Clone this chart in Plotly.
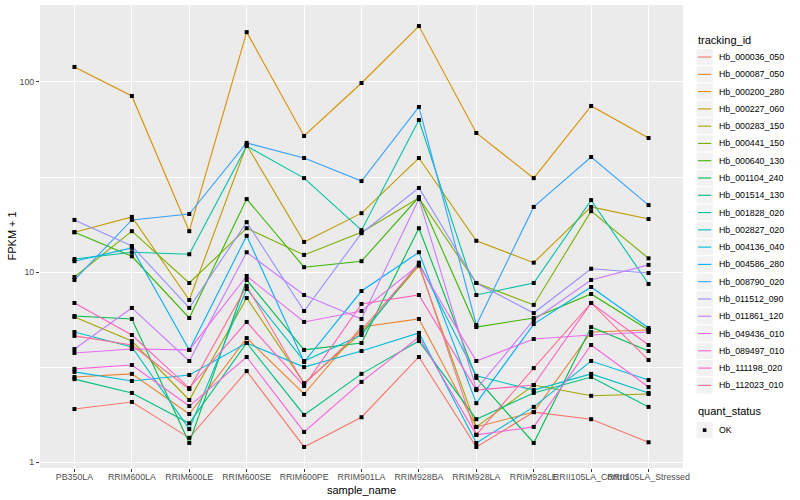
import plotly.graph_objects as go
import math

samples = ["PB350LA", "RRIM600LA", "RRIM600LE", "RRIM600SE", "RRIM600PE", "RRIM901LA",
           "RRIM928BA", "RRIM928LA", "RRIM928LE", "RRII105LA_Control", "RRII105LA_Stressed"]

tracking_ids = ["Hb_000036_050", "Hb_000087_050", "Hb_000200_280", "Hb_000227_060",
                "Hb_000283_150", "Hb_000441_150", "Hb_000640_130", "Hb_001104_240",
                "Hb_001514_130", "Hb_001828_020", "Hb_002827_020", "Hb_004136_040",
                "Hb_004586_280", "Hb_008790_020", "Hb_011512_090", "Hb_011861_120",
                "Hb_049436_010", "Hb_089497_010", "Hb_111198_020", "Hb_112023_010"]

# FPKM + 1 values, one list per tracking_id (order of samples)
hb_000036_050 = [1.90, 2.07, 1.34, 3.01, 1.20, 1.72, 3.57, 1.20, 1.83, 1.68, 1.27]
hb_000087_050 = [2.80, 2.91, 1.79, 4.49, 2.28, 5.13, 5.66, 1.53, 1.83, 4.83, 4.95]
hb_000200_280 = [120, 84.4, 16.4, 183, 52.0, 98.8, 197, 53.9, 31.2, 74.8, 50.7]
hb_000227_060 = [16.2, 19.5, 7.12, 46.6, 14.4, 20.4, 39.8, 14.6, 11.2, 22.0, 19.0]
hb_000283_150 = [5.80, 4.33, 2.12, 7.30, 2.60, 4.78, 10.8, 1.53, 2.54, 2.23, 2.28]
hb_000441_150 = [9.41, 16.4, 8.75, 17.0, 12.3, 16.2, 24.5, 8.75, 6.71, 20.9, 11.8]
hb_000640_130 = [16.2, 12.1, 5.73, 24.2, 10.6, 11.4, 24.8, 5.13, 5.73, 7.66, 4.95]
hb_001104_240 = [5.87, 5.66, 1.26, 9.08, 3.89, 4.23, 17.0, 2.77, 1.26, 5.13, 3.84]
hb_001514_130 = [2.73, 2.31, 1.60, 4.23, 1.77, 2.91, 4.33, 1.68, 2.31, 2.80, 1.95]
hb_001828_020 = [11.7, 12.7, 12.4, 46.0, 31.2, 16.6, 63.1, 7.57, 8.75, 23.9, 8.65]
hb_002827_020 = [4.83, 4.03, 1.49, 8.14, 3.40, 4.66, 11.2, 2.84, 2.39, 2.91, 2.31]
hb_004136_040 = [2.98, 2.67, 2.87, 4.23, 3.16, 3.84, 4.78, 1.26, 1.95, 3.40, 2.70]
hb_004586_280 = [11.4, 13.4, 3.89, 15.5, 3.36, 7.94, 12.7, 2.04, 5.32, 8.34, 5.07]
hb_008790_020 = [9.08, 18.8, 20.2, 47.8, 39.8, 30.1, 73.9, 5.26, 22.0, 40.3, 22.5]
hb_011512_090 = [18.8, 13.7, 6.47, 18.3, 6.23, 16.0, 27.7, 8.75, 6.08, 10.4, 9.88]
hb_011861_120 = [3.93, 6.47, 3.40, 12.7, 7.57, 5.66, 24.2, 2.42, 5.59, 9.08, 10.9]
hb_049436_010 = [3.75, 3.93, 3.89, 9.53, 5.46, 6.23, 10.9, 3.40, 4.44, 4.66, 4.83]
hb_089497_010 = [3.09, 3.24, 1.97, 3.57, 1.44, 2.64, 4.55, 1.39, 1.53, 4.13, 2.48]
hb_111198_020 = [6.87, 4.66, 2.45, 5.46, 2.51, 6.79, 7.57, 2.39, 2.54, 6.87, 4.13]
hb_112023_010 = [4.61, 4.13, 2.42, 8.44, 2.57, 4.95, 11.0, 1.39, 3.12, 6.87, 3.44]

quant_status = ["OK"]

series = [hb_000036_050, hb_000087_050, hb_000200_280, hb_000227_060, hb_000283_150,
          hb_000441_150, hb_000640_130, hb_001104_240, hb_001514_130, hb_001828_020,
          hb_002827_020, hb_004136_040, hb_004586_280, hb_008790_020, hb_011512_090,
          hb_011861_120, hb_049436_010, hb_089497_010, hb_111198_020, hb_112023_010]

colors = ["#F8766D", "#EA8331", "#D89000", "#C09B00", "#A3A500", "#7CAE00", "#39B600",
          "#00BB4E", "#00BF7D", "#00C1A3", "#00BFC4", "#00BAE0", "#00B0F6", "#35A2FF",
          "#9590FF", "#C77CFF", "#E76BF3", "#FA62DB", "#FF62BC", "#FF6C91"]

FONT = "Liberation Sans, Arial, Helvetica, sans-serif"
W, H = 800, 500
L, R, T, B = 40, 683, 5, 468

fig = go.Figure()
for name, vals, col in zip(tracking_ids, series, colors):
    fig.add_trace(go.Scatter(x=samples, y=vals, mode="lines", name=name,
                             line=dict(color=col, width=1.1), showlegend=False,
                             hoverinfo="x+y+name"))

px_all, py_all = [], []
for vals in series:
    px_all += samples
    py_all += vals
fig.add_trace(go.Scatter(x=px_all, y=py_all, mode="markers", name=quant_status[0],
                         marker=dict(symbol="square", size=4, color="black"),
                         showlegend=False))

allv = [v for s in series for v in s]
lo, hi = math.log10(min(allv)), math.log10(max(allv))
pad = 0.05 * (hi - lo)

def fx(p):
    return (p - L) / (R - L)

def fy(p):
    return 1 - (p - T) / (B - T)

shapes, ann = [], []
# legend: tracking_id
ann.append(dict(text="tracking_id", x=fx(696), y=fy(40), xref="paper", yref="paper",
                xanchor="left", yanchor="middle", showarrow=False,
                font=dict(family=FONT, size=11, color="black")))
step = 17.28
top0 = 48.4
for i, (name, col) in enumerate(zip(tracking_ids, colors)):
    y0 = top0 + i * step
    yc = y0 + step / 2
    shapes.append(dict(type="rect", xref="paper", yref="paper",
                       x0=fx(696), x1=fx(696 + step), y0=fy(y0), y1=fy(y0 + step),
                       fillcolor="#F2F2F2", line=dict(color="white", width=1)))
    shapes.append(dict(type="line", xref="paper", yref="paper",
                       x0=fx(698), x1=fx(696 + step - 2), y0=fy(yc), y1=fy(yc),
                       line=dict(color=col, width=1.1)))
    ann.append(dict(text=name, x=fx(717), y=fy(yc), xref="paper", yref="paper",
                    xanchor="left", yanchor="middle", showarrow=False,
                    font=dict(family=FONT, size=8.8, color="black")))

# legend: quant_status
ann.append(dict(text="quant_status", x=fx(696), y=fy(411), xref="paper", yref="paper",
                xanchor="left", yanchor="middle", showarrow=False,
                font=dict(family=FONT, size=11, color="black")))
qy0 = 421.5
shapes.append(dict(type="rect", xref="paper", yref="paper",
                   x0=fx(696), x1=fx(696 + step), y0=fy(qy0), y1=fy(qy0 + step),
                   fillcolor="#F2F2F2", line=dict(color="white", width=1)))
qc = qy0 + step / 2
shapes.append(dict(type="rect", xref="paper", yref="paper",
                   x0=fx(704.6 - 1.8), x1=fx(704.6 + 1.8), y0=fy(qc - 1.8), y1=fy(qc + 1.8),
                   fillcolor="black", line=dict(color="black", width=0)))
ann.append(dict(text=quant_status[0], x=fx(717), y=fy(qc), xref="paper", yref="paper",
                xanchor="left", yanchor="middle", showarrow=False,
                font=dict(family=FONT, size=8.8, color="black")))

# axis titles
ann.append(dict(text="sample_name", x=0.5, y=fy(489.5), xref="paper", yref="paper",
                xanchor="center", yanchor="middle", showarrow=False,
                font=dict(family=FONT, size=11, color="black")))
ann.append(dict(text="FPKM + 1", x=fx(11), y=0.5, xref="paper", yref="paper",
                xanchor="center", yanchor="middle", showarrow=False, textangle=-90,
                font=dict(family=FONT, size=11, color="black")))

fig.update_layout(
    width=W, height=H,
    margin=dict(l=L, r=W - R, t=T, b=H - B),
    plot_bgcolor="#EBEBEB", paper_bgcolor="white",
    showlegend=False,
    font=dict(family=FONT),
    shapes=shapes, annotations=ann,
    xaxis=dict(type="category", categoryorder="array", categoryarray=samples,
               range=[-0.6, len(samples) - 0.4], showgrid=True, gridcolor="white",
               gridwidth=1.07, zeroline=False, showline=False, ticks="outside",
               ticklen=3, tickwidth=1, tickcolor="#333333", tickangle=0,
               ticklabelstandoff=-3,
               tickfont=dict(family=FONT, size=8.8, color="#4D4D4D"), automargin=False),
    yaxis=dict(type="log", range=[lo - pad, hi + pad], tickmode="array",
               tickvals=[1, 10, 100], ticktext=["1", "10", "100"],
               showgrid=True, gridcolor="white", gridwidth=1.07, zeroline=False,
               showline=False, ticks="outside", ticklen=3, tickwidth=1,
               tickcolor="#333333", tickfont=dict(family=FONT, size=8.8, color="#4D4D4D"),
               minor=dict(tickmode="array", tickvals=[10 ** 0.5, 10 ** 1.5],
                          showgrid=True, gridcolor="white", gridwidth=0.53, ticks=""),
               automargin=False),
)

fig.write_html("out.html", config={"displayModeBar": False},
               post_script="document.body.style.margin='0';document.body.style.overflow='hidden';")
